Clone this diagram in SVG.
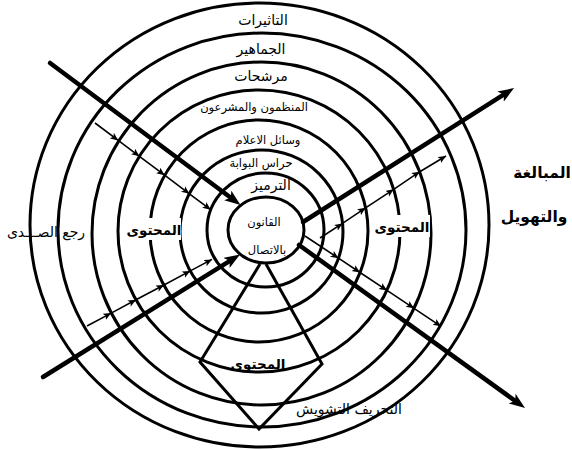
<svg xmlns="http://www.w3.org/2000/svg" width="572" height="450" viewBox="0 0 572 450">
<style>
.ring{fill:none;stroke:#000;stroke-width:3}
.thick{fill:none;stroke:#000;stroke-width:4.5;stroke-linecap:round}
.thin{fill:none;stroke:#000;stroke-width:1.6}
.fun{fill:none;stroke:#000;stroke-width:3;stroke-linejoin:miter}
.t{font-family:"DejaVu Sans",sans-serif;font-size:14px;fill:#000;text-anchor:middle}
.s{font-size:11.5px}
.b{font-weight:bold;font-size:13.5px}
.h{font-weight:bold;font-size:15.5px}
</style>
<defs>
<marker id="big" markerUnits="userSpaceOnUse" markerWidth="18" markerHeight="12" refX="6" refY="6" orient="auto"><path d="M0,0 L16,6 L0,12 L4,6 z" fill="#000"/></marker>
<marker id="sm" markerUnits="userSpaceOnUse" markerWidth="10" markerHeight="8" refX="8" refY="3.5" orient="auto"><path d="M0,0 L8,3.5 L0,7 L2,3.5 z" fill="#000"/></marker>
</defs>
<g id="rings">
<ellipse id="ring1" class="ring" cx="259.5" cy="225" rx="229.5" ry="222"/>
<ellipse id="ring2" class="ring" cx="262" cy="230" rx="204" ry="197"/>
<ellipse id="ring3" class="ring" cx="261.5" cy="233.5" rx="169.5" ry="171.5"/>
<ellipse id="ring4" class="ring" cx="259" cy="231" rx="141" ry="141"/>
<ellipse id="ring5" class="ring" cx="259" cy="231" rx="109" ry="111"/>
<ellipse id="ring6" class="ring" cx="261.5" cy="231.5" rx="81.5" ry="81.5"/>
<ellipse id="ring7" class="ring" cx="265.5" cy="230" rx="58.5" ry="57"/>
<ellipse id="ring8" class="ring" cx="266" cy="230" rx="38" ry="33"/>
</g>
<g id="connectors">
<line class="thick" x1="50" y1="63" x2="232.5" y2="199" marker-end="url(#big)"/>
<line class="thick" x1="43" y1="377" x2="231.5" y2="259.8" marker-end="url(#big)"/>
<line class="thick" x1="303" y1="222" x2="505.6" y2="93.4" marker-end="url(#big)"/>
<line class="thick" x1="299" y1="245" x2="516.9" y2="402.1" marker-end="url(#big)"/>
<polyline class="thin" points="95,123 118.2,140.4 139.4,156.3 164.6,175.2 189.4,193.8 210.6,209.7" marker-mid="url(#sm)" marker-end="url(#sm)"/>
<polyline class="thin" points="87,326 111.2,313.1 136,299.8 164,285 190.3,270.9 212,259.4" marker-mid="url(#sm)" marker-end="url(#sm)"/>
<polyline class="thin" points="320,238 342.5,223.4 365.6,207.8 393.7,189.3 419.8,171.7 446,156" marker-mid="url(#sm)" marker-end="url(#sm)"/>
<polyline class="thin" points="305,236 338.5,258.2 360,272.5 387,290.4 414,308.3 441,326.3" marker-mid="url(#sm)" marker-end="url(#sm)"/>
<polyline class="fun" points="260,264 200,362 259,429 322,364 266,264"/>
</g>
<g id="labels">
<text class="t" x="263" y="25">التاثيرات</text>
<text class="t" x="261" y="54">الجماهير</text>
<text class="t" x="261" y="81">مرشحات</text>
<text class="t s" x="254" y="111">المنظمون  والمشرعون</text>
<text class="t s" x="268" y="144">وسائل الاعلام</text>
<text class="t s" x="261" y="167">حراس البوابة</text>
<text class="t" x="271" y="190">الترميز</text>
<text class="t s" x="264" y="226">القانون</text>
<text class="t s" x="267" y="254">بالاتصال</text>
<text class="t" x="46" y="237">رجع الصـــدى</text>
<rect x="127" y="218" width="54" height="22" fill="#fff"/>
<text class="t b" x="154" y="235">المحتوى</text>
<rect x="374" y="215" width="56" height="22" fill="#fff"/>
<text class="t b" x="402" y="232">المحتوى</text>
<text class="t b" x="258" y="369">المحتوى</text>
<text class="t h" x="542" y="178">المبالغة</text>
<text class="t h" x="534" y="222">والتهويل</text>
<text class="t" x="349" y="414">التحريف التشويش</text>
</g>
</svg>
